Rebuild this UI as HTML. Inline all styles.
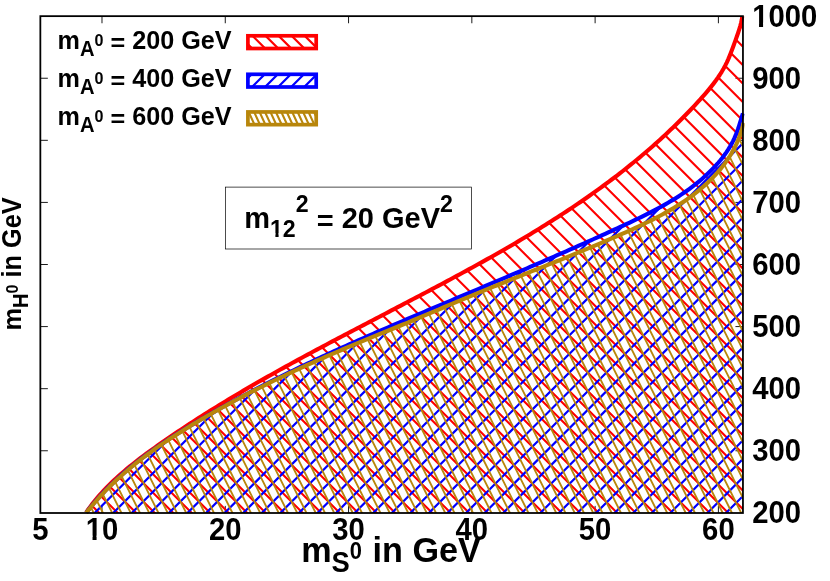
<!DOCTYPE html>
<html><head><meta charset="utf-8"><title>plot</title>
<style>html,body{margin:0;padding:0;background:#fff;}body{width:830px;height:581px;overflow:hidden;}svg{display:block;will-change:transform;}text{font-family:"Liberation Sans",sans-serif;font-weight:bold;fill:#000;}</style></head><body>
<svg width="830" height="581" viewBox="0 0 830 581">
<rect width="830" height="581" fill="#fff"/>
<defs>
<clipPath id="cr"><path d="M86.20,512.35 L88.23,509.45 L90.31,506.61 L92.44,503.81 L94.62,501.06 L96.85,498.35 L99.13,495.69 L101.46,493.07 L103.83,490.49 L106.24,487.95 L108.69,485.46 L111.18,482.99 L113.70,480.57 L116.26,478.18 L118.86,475.82 L121.48,473.49 L124.14,471.20 L126.82,468.93 L129.53,466.69 L132.27,464.48 L135.02,462.29 L137.80,460.12 L140.60,457.98 L143.42,455.86 L146.25,453.76 L149.09,451.67 L151.95,449.60 L154.82,447.55 L157.70,445.51 L160.58,443.48 L163.47,441.46 L166.37,439.46 L169.27,437.46 L172.18,435.48 L175.09,433.50 L178.01,431.54 L180.94,429.58 L183.87,427.64 L186.80,425.71 L189.74,423.78 L192.69,421.87 L195.64,419.96 L198.59,418.07 L201.55,416.18 L204.52,414.30 L207.49,412.43 L210.46,410.57 L213.44,408.72 L216.42,406.87 L219.41,405.04 L222.40,403.21 L225.39,401.39 L228.39,399.58 L231.40,397.77 L234.41,395.98 L237.42,394.18 L240.43,392.40 L243.45,390.62 L246.48,388.86 L249.51,387.09 L252.54,385.34 L255.57,383.58 L258.61,381.84 L261.65,380.10 L264.69,378.37 L267.74,376.64 L270.79,374.92 L273.85,373.21 L276.90,371.49 L279.96,369.79 L283.03,368.09 L286.09,366.39 L289.16,364.70 L292.23,363.01 L295.30,361.33 L298.38,359.65 L301.46,357.98 L304.54,356.31 L307.62,354.64 L310.71,352.98 L313.79,351.31 L316.88,349.66 L319.98,348.00 L323.07,346.35 L326.16,344.70 L329.26,343.06 L332.36,341.41 L335.46,339.77 L338.56,338.13 L341.67,336.50 L344.77,334.86 L347.88,333.23 L350.98,331.60 L354.09,329.97 L357.20,328.34 L360.31,326.71 L363.42,325.08 L366.54,323.45 L369.65,321.83 L372.76,320.20 L375.88,318.57 L378.99,316.95 L382.11,315.32 L385.23,313.70 L388.34,312.07 L391.46,310.44 L394.58,308.82 L397.70,307.19 L400.81,305.56 L403.93,303.93 L407.05,302.30 L410.17,300.67 L413.28,299.03 L416.40,297.39 L419.52,295.76 L422.63,294.12 L425.75,292.47 L428.86,290.83 L431.98,289.18 L435.09,287.53 L438.20,285.88 L441.31,284.22 L444.42,282.57 L447.53,280.90 L450.64,279.24 L453.74,277.57 L456.84,275.89 L459.94,274.22 L463.04,272.54 L466.14,270.85 L469.23,269.16 L472.32,267.46 L475.41,265.76 L478.49,264.06 L481.57,262.35 L484.65,260.63 L487.72,258.91 L490.79,257.19 L493.86,255.45 L496.92,253.72 L499.98,251.97 L503.03,250.22 L506.08,248.46 L509.13,246.70 L512.17,244.93 L515.21,243.15 L518.24,241.37 L521.26,239.57 L524.28,237.78 L527.30,235.97 L530.31,234.15 L533.31,232.33 L536.31,230.50 L539.30,228.66 L542.29,226.81 L545.27,224.96 L548.25,223.09 L551.21,221.22 L554.17,219.33 L557.13,217.44 L560.07,215.54 L563.01,213.63 L565.95,211.71 L568.87,209.78 L571.79,207.84 L574.70,205.89 L577.60,203.92 L580.49,201.95 L583.38,199.97 L586.26,197.97 L589.13,195.97 L591.99,193.95 L594.84,191.93 L597.68,189.89 L600.51,187.84 L603.34,185.77 L606.15,183.70 L608.96,181.61 L611.76,179.51 L614.54,177.40 L617.32,175.28 L620.09,173.14 L622.84,170.99 L625.59,168.82 L628.32,166.65 L631.05,164.46 L633.76,162.25 L636.47,160.03 L639.16,157.80 L641.84,155.55 L644.51,153.29 L647.17,151.02 L649.81,148.73 L652.45,146.42 L655.07,144.10 L657.68,141.77 L660.28,139.42 L662.87,137.05 L665.44,134.67 L668.00,132.28 L670.55,129.86 L673.08,127.43 L675.60,124.99 L678.11,122.53 L680.61,120.05 L683.09,117.55 L685.56,115.04 L688.01,112.51 L690.45,109.96 L692.88,107.40 L695.29,104.82 L697.69,102.22 L700.07,99.60 L702.44,96.96 L704.78,94.30 L707.09,91.62 L709.36,88.90 L711.58,86.15 L713.75,83.37 L715.86,80.55 L717.89,77.68 L719.85,74.76 L721.72,71.79 L723.49,68.77 L725.16,65.69 L726.72,62.55 L728.19,59.35 L729.56,56.11 L730.88,52.83 L732.13,49.53 L733.35,46.22 L734.55,42.90 L735.74,39.58 L736.92,36.27 L738.07,32.96 L739.15,29.64 L740.16,26.29 L741.05,22.91 L741.81,19.48 L742.40,16.00 L742.95,513.00 L86.20,513.00 Z"/></clipPath>
<clipPath id="cb"><path d="M86.20,512.85 L88.22,510.22 L90.28,507.63 L92.36,505.07 L94.48,502.54 L96.62,500.05 L98.80,497.58 L101.00,495.15 L103.23,492.74 L105.49,490.37 L107.78,488.03 L110.09,485.71 L112.43,483.43 L114.79,481.17 L117.17,478.93 L119.58,476.73 L122.02,474.55 L124.47,472.39 L126.95,470.26 L129.45,468.16 L131.97,466.08 L134.51,464.02 L137.06,461.98 L139.64,459.97 L142.24,457.97 L144.85,456.00 L147.48,454.05 L150.12,452.12 L152.78,450.21 L155.46,448.31 L158.15,446.44 L160.86,444.58 L163.57,442.74 L166.30,440.91 L169.05,439.10 L171.80,437.31 L174.57,435.53 L177.34,433.76 L180.12,432.01 L182.92,430.27 L185.72,428.54 L188.53,426.83 L191.34,425.13 L194.17,423.43 L197.00,421.75 L199.83,420.08 L202.67,418.42 L205.51,416.76 L208.36,415.12 L211.21,413.48 L214.07,411.85 L216.93,410.23 L219.79,408.62 L222.66,407.01 L225.53,405.42 L228.41,403.83 L231.29,402.25 L234.18,400.68 L237.06,399.12 L239.96,397.56 L242.85,396.01 L245.75,394.47 L248.66,392.94 L251.56,391.41 L254.47,389.89 L257.39,388.38 L260.31,386.87 L263.23,385.38 L266.15,383.88 L269.08,382.40 L272.01,380.92 L274.94,379.45 L277.88,377.98 L280.82,376.52 L283.76,375.07 L286.71,373.62 L289.66,372.18 L292.61,370.75 L295.57,369.32 L298.52,367.89 L301.48,366.47 L304.44,365.06 L307.41,363.65 L310.38,362.25 L313.35,360.85 L316.32,359.46 L319.29,358.07 L322.27,356.69 L325.25,355.31 L328.23,353.93 L331.21,352.56 L334.20,351.20 L337.19,349.84 L340.18,348.48 L343.17,347.13 L346.16,345.78 L349.15,344.43 L352.15,343.09 L355.15,341.76 L358.15,340.42 L361.15,339.09 L364.15,337.76 L367.16,336.44 L370.16,335.12 L373.17,333.80 L376.18,332.49 L379.19,331.18 L382.20,329.87 L385.21,328.56 L388.22,327.26 L391.24,325.95 L394.25,324.66 L397.27,323.36 L400.28,322.06 L403.30,320.77 L406.32,319.48 L409.34,318.19 L412.35,316.90 L415.37,315.62 L418.39,314.33 L421.42,313.05 L424.44,311.77 L427.46,310.49 L430.48,309.21 L433.50,307.93 L436.52,306.65 L439.55,305.37 L442.57,304.10 L445.59,302.82 L448.61,301.55 L451.63,300.27 L454.66,299.00 L457.68,297.72 L460.70,296.45 L463.72,295.18 L466.74,293.90 L469.76,292.63 L472.78,291.35 L475.80,290.08 L478.82,288.80 L481.84,287.52 L484.86,286.25 L487.87,284.97 L490.89,283.69 L493.91,282.41 L496.93,281.13 L499.94,279.85 L502.96,278.57 L505.98,277.29 L508.99,276.00 L512.01,274.72 L515.02,273.43 L518.04,272.14 L521.05,270.85 L524.06,269.56 L527.08,268.27 L530.09,266.98 L533.10,265.68 L536.11,264.38 L539.12,263.08 L542.14,261.78 L545.15,260.47 L548.16,259.17 L551.16,257.86 L554.17,256.55 L557.18,255.23 L560.19,253.92 L563.20,252.60 L566.20,251.28 L569.21,249.95 L572.22,248.62 L575.22,247.29 L578.23,245.96 L581.23,244.63 L584.24,243.29 L587.24,241.94 L590.24,240.60 L593.24,239.25 L596.25,237.90 L599.25,236.54 L602.25,235.18 L605.25,233.82 L608.25,232.45 L611.24,231.08 L614.24,229.71 L617.24,228.33 L620.24,226.95 L623.23,225.56 L626.23,224.17 L629.22,222.77 L632.21,221.36 L635.19,219.94 L638.16,218.51 L641.13,217.06 L644.09,215.60 L647.03,214.13 L649.97,212.64 L652.89,211.12 L655.80,209.59 L658.69,208.04 L661.57,206.46 L664.43,204.86 L667.27,203.23 L670.09,201.57 L672.89,199.88 L675.67,198.16 L678.42,196.41 L681.15,194.62 L683.86,192.80 L686.53,190.95 L689.18,189.05 L691.80,187.11 L694.39,185.14 L696.94,183.11 L699.47,181.05 L701.95,178.94 L704.41,176.78 L706.82,174.57 L709.20,172.31 L711.54,170.00 L713.83,167.64 L716.08,165.23 L718.27,162.76 L720.40,160.24 L722.46,157.66 L724.44,155.04 L726.34,152.35 L728.16,149.62 L729.88,146.83 L731.51,143.99 L733.02,141.09 L734.43,138.13 L735.72,135.13 L736.91,132.08 L738.02,128.99 L739.06,125.87 L740.05,122.74 L741.01,119.59 L741.95,116.44 L742.90,113.30 L742.95,513.00 L86.20,513.00 Z"/></clipPath>
<clipPath id="cg"><path d="M86.20,512.85 L88.24,510.27 L90.30,507.72 L92.39,505.20 L94.52,502.71 L96.67,500.24 L98.85,497.81 L101.05,495.41 L103.29,493.03 L105.54,490.68 L107.83,488.36 L110.14,486.06 L112.47,483.79 L114.83,481.55 L117.21,479.33 L119.61,477.14 L122.03,474.97 L124.48,472.82 L126.94,470.70 L129.43,468.60 L131.94,466.52 L134.46,464.46 L137.01,462.43 L139.57,460.41 L142.15,458.42 L144.75,456.45 L147.36,454.49 L149.99,452.56 L152.64,450.64 L155.29,448.75 L157.97,446.87 L160.66,445.01 L163.36,443.16 L166.07,441.33 L168.79,439.52 L171.53,437.72 L174.27,435.94 L177.03,434.17 L179.80,432.42 L182.57,430.68 L185.36,428.95 L188.15,427.24 L190.95,425.54 L193.75,423.85 L196.57,422.17 L199.38,420.50 L202.21,418.85 L205.04,417.20 L207.87,415.56 L210.71,413.94 L213.55,412.32 L216.40,410.71 L219.25,409.12 L222.11,407.53 L224.97,405.95 L227.83,404.38 L230.70,402.83 L233.58,401.28 L236.46,399.73 L239.34,398.20 L242.23,396.68 L245.12,395.17 L248.02,393.66 L250.92,392.16 L253.82,390.68 L256.73,389.20 L259.65,387.73 L262.56,386.26 L265.48,384.81 L268.41,383.36 L271.34,381.92 L274.27,380.49 L277.20,379.07 L280.14,377.65 L283.08,376.24 L286.03,374.84 L288.98,373.44 L291.93,372.06 L294.89,370.68 L297.85,369.30 L300.81,367.94 L303.78,366.58 L306.75,365.23 L309.72,363.88 L312.70,362.54 L315.68,361.21 L318.66,359.88 L321.64,358.56 L324.63,357.25 L327.62,355.94 L330.61,354.64 L333.60,353.34 L336.60,352.05 L339.60,350.77 L342.60,349.49 L345.60,348.22 L348.61,346.95 L351.62,345.69 L354.63,344.43 L357.64,343.17 L360.65,341.92 L363.67,340.67 L366.69,339.43 L369.70,338.18 L372.72,336.94 L375.74,335.70 L378.76,334.46 L381.78,333.22 L384.81,331.98 L387.83,330.74 L390.85,329.50 L393.88,328.26 L396.90,327.01 L399.92,325.77 L402.95,324.52 L405.97,323.27 L408.99,322.02 L412.02,320.77 L415.04,319.51 L418.06,318.24 L421.08,316.97 L424.10,315.70 L427.12,314.42 L430.14,313.14 L433.16,311.86 L436.17,310.58 L439.19,309.29 L442.21,308.01 L445.22,306.72 L448.24,305.44 L451.25,304.16 L454.27,302.88 L457.28,301.61 L460.30,300.34 L463.31,299.08 L466.33,297.82 L469.34,296.57 L472.36,295.32 L475.37,294.08 L478.39,292.84 L481.40,291.60 L484.42,290.37 L487.44,289.14 L490.45,287.92 L493.47,286.70 L496.48,285.48 L499.50,284.26 L502.51,283.05 L505.53,281.83 L508.55,280.62 L511.56,279.41 L514.58,278.20 L517.59,276.99 L520.61,275.79 L523.63,274.58 L526.64,273.37 L529.66,272.17 L532.68,270.96 L535.69,269.75 L538.71,268.54 L541.73,267.33 L544.75,266.12 L547.76,264.91 L550.78,263.70 L553.80,262.48 L556.82,261.26 L559.83,260.04 L562.85,258.82 L565.87,257.59 L568.89,256.36 L571.91,255.13 L574.93,253.89 L577.95,252.65 L580.96,251.40 L583.98,250.15 L587.00,248.89 L590.02,247.63 L593.04,246.37 L596.06,245.10 L599.08,243.82 L602.10,242.53 L605.12,241.25 L608.14,239.95 L611.17,238.65 L614.19,237.34 L617.21,236.02 L620.23,234.69 L623.25,233.36 L626.27,232.02 L629.29,230.66 L632.30,229.30 L635.31,227.92 L638.31,226.53 L641.30,225.12 L644.29,223.70 L647.26,222.25 L650.22,220.79 L653.17,219.30 L656.10,217.80 L659.01,216.27 L661.91,214.71 L664.79,213.13 L667.64,211.52 L670.48,209.89 L673.29,208.22 L676.08,206.52 L678.84,204.79 L681.57,203.02 L684.27,201.22 L686.95,199.38 L689.59,197.51 L692.20,195.59 L694.77,193.64 L697.31,191.64 L699.82,189.60 L702.28,187.52 L704.70,185.39 L707.08,183.21 L709.42,180.98 L711.72,178.71 L713.97,176.38 L716.17,174.01 L718.31,171.58 L720.40,169.11 L722.43,166.58 L724.39,164.01 L726.29,161.38 L728.12,158.71 L729.88,155.99 L731.56,153.21 L733.17,150.39 L734.69,147.52 L736.12,144.60 L737.47,141.63 L738.72,138.62 L739.88,135.55 L740.94,132.44 L741.90,129.27 L742.75,126.06 L743.50,122.80 L742.95,513.00 L86.20,513.00 Z"/></clipPath>
<clipPath id="box"><rect x="40.35" y="16.15" width="704.2" height="498.85"/></clipPath>
</defs>
<path d="M101.99,513.0V505.9M101.99,16.15V23.25 M225.27,513.0V505.9M225.27,16.15V23.25 M348.55,513.0V505.9M348.55,16.15V23.25 M471.84,513.0V505.9M471.84,16.15V23.25 M595.12,513.0V505.9M595.12,16.15V23.25 M718.40,513.0V505.9M718.40,16.15V23.25 M40.35,450.76H47.85M742.95,450.76H735.45 M40.35,388.68H47.85M742.95,388.68H735.45 M40.35,326.59H47.85M742.95,326.59H735.45 M40.35,264.50H47.85M742.95,264.50H735.45 M40.35,202.41H47.85M742.95,202.41H735.45 M40.35,140.32H47.85M742.95,140.32H735.45 M40.35,78.24H47.85M742.95,78.24H735.45" stroke="#000" stroke-width="0.9" fill="none"/>
<g clip-path="url(#cr)"><path d="M-495.05,11.15L11.80,518.00 M-476.55,11.15L30.30,518.00 M-458.05,11.15L48.80,518.00 M-439.55,11.15L67.30,518.00 M-421.05,11.15L85.80,518.00 M-402.55,11.15L104.30,518.00 M-384.05,11.15L122.80,518.00 M-365.55,11.15L141.30,518.00 M-347.05,11.15L159.80,518.00 M-328.55,11.15L178.30,518.00 M-310.05,11.15L196.80,518.00 M-291.55,11.15L215.30,518.00 M-273.05,11.15L233.80,518.00 M-254.55,11.15L252.30,518.00 M-236.05,11.15L270.80,518.00 M-217.55,11.15L289.30,518.00 M-199.05,11.15L307.80,518.00 M-180.55,11.15L326.30,518.00 M-162.05,11.15L344.80,518.00 M-143.55,11.15L363.30,518.00 M-125.05,11.15L381.80,518.00 M-106.55,11.15L400.30,518.00 M-88.05,11.15L418.80,518.00 M-69.55,11.15L437.30,518.00 M-51.05,11.15L455.80,518.00 M-32.55,11.15L474.30,518.00 M-14.05,11.15L492.80,518.00 M4.45,11.15L511.30,518.00 M22.95,11.15L529.80,518.00 M41.45,11.15L548.30,518.00 M59.95,11.15L566.80,518.00 M78.45,11.15L585.30,518.00 M96.95,11.15L603.80,518.00 M115.45,11.15L622.30,518.00 M133.95,11.15L640.80,518.00 M152.45,11.15L659.30,518.00 M170.95,11.15L677.80,518.00 M189.45,11.15L696.30,518.00 M207.95,11.15L714.80,518.00 M226.45,11.15L733.30,518.00 M244.95,11.15L751.80,518.00 M263.45,11.15L770.30,518.00 M281.95,11.15L788.80,518.00 M300.45,11.15L807.30,518.00 M318.95,11.15L825.80,518.00 M337.45,11.15L844.30,518.00 M355.95,11.15L862.80,518.00 M374.45,11.15L881.30,518.00 M392.95,11.15L899.80,518.00 M411.45,11.15L918.30,518.00 M429.95,11.15L936.80,518.00 M448.45,11.15L955.30,518.00 M466.95,11.15L973.80,518.00 M485.45,11.15L992.30,518.00 M503.95,11.15L1010.80,518.00 M522.45,11.15L1029.30,518.00 M540.95,11.15L1047.80,518.00 M559.45,11.15L1066.30,518.00 M577.95,11.15L1084.80,518.00 M596.45,11.15L1103.30,518.00 M614.95,11.15L1121.80,518.00 M633.45,11.15L1140.30,518.00 M651.95,11.15L1158.80,518.00 M670.45,11.15L1177.30,518.00 M688.95,11.15L1195.80,518.00 M707.45,11.15L1214.30,518.00 M725.95,11.15L1232.80,518.00 M744.45,11.15L1251.30,518.00 M762.95,11.15L1269.80,518.00" stroke="#ff0000" stroke-width="2.1" fill="none"/></g>
<path d="M86.20,512.35 L88.23,509.45 L90.31,506.61 L92.44,503.81 L94.62,501.06 L96.85,498.35 L99.13,495.69 L101.46,493.07 L103.83,490.49 L106.24,487.95 L108.69,485.46 L111.18,482.99 L113.70,480.57 L116.26,478.18 L118.86,475.82 L121.48,473.49 L124.14,471.20 L126.82,468.93 L129.53,466.69 L132.27,464.48 L135.02,462.29 L137.80,460.12 L140.60,457.98 L143.42,455.86 L146.25,453.76 L149.09,451.67 L151.95,449.60 L154.82,447.55 L157.70,445.51 L160.58,443.48 L163.47,441.46 L166.37,439.46 L169.27,437.46 L172.18,435.48 L175.09,433.50 L178.01,431.54 L180.94,429.58 L183.87,427.64 L186.80,425.71 L189.74,423.78 L192.69,421.87 L195.64,419.96 L198.59,418.07 L201.55,416.18 L204.52,414.30 L207.49,412.43 L210.46,410.57 L213.44,408.72 L216.42,406.87 L219.41,405.04 L222.40,403.21 L225.39,401.39 L228.39,399.58 L231.40,397.77 L234.41,395.98 L237.42,394.18 L240.43,392.40 L243.45,390.62 L246.48,388.86 L249.51,387.09 L252.54,385.34 L255.57,383.58 L258.61,381.84 L261.65,380.10 L264.69,378.37 L267.74,376.64 L270.79,374.92 L273.85,373.21 L276.90,371.49 L279.96,369.79 L283.03,368.09 L286.09,366.39 L289.16,364.70 L292.23,363.01 L295.30,361.33 L298.38,359.65 L301.46,357.98 L304.54,356.31 L307.62,354.64 L310.71,352.98 L313.79,351.31 L316.88,349.66 L319.98,348.00 L323.07,346.35 L326.16,344.70 L329.26,343.06 L332.36,341.41 L335.46,339.77 L338.56,338.13 L341.67,336.50 L344.77,334.86 L347.88,333.23 L350.98,331.60 L354.09,329.97 L357.20,328.34 L360.31,326.71 L363.42,325.08 L366.54,323.45 L369.65,321.83 L372.76,320.20 L375.88,318.57 L378.99,316.95 L382.11,315.32 L385.23,313.70 L388.34,312.07 L391.46,310.44 L394.58,308.82 L397.70,307.19 L400.81,305.56 L403.93,303.93 L407.05,302.30 L410.17,300.67 L413.28,299.03 L416.40,297.39 L419.52,295.76 L422.63,294.12 L425.75,292.47 L428.86,290.83 L431.98,289.18 L435.09,287.53 L438.20,285.88 L441.31,284.22 L444.42,282.57 L447.53,280.90 L450.64,279.24 L453.74,277.57 L456.84,275.89 L459.94,274.22 L463.04,272.54 L466.14,270.85 L469.23,269.16 L472.32,267.46 L475.41,265.76 L478.49,264.06 L481.57,262.35 L484.65,260.63 L487.72,258.91 L490.79,257.19 L493.86,255.45 L496.92,253.72 L499.98,251.97 L503.03,250.22 L506.08,248.46 L509.13,246.70 L512.17,244.93 L515.21,243.15 L518.24,241.37 L521.26,239.57 L524.28,237.78 L527.30,235.97 L530.31,234.15 L533.31,232.33 L536.31,230.50 L539.30,228.66 L542.29,226.81 L545.27,224.96 L548.25,223.09 L551.21,221.22 L554.17,219.33 L557.13,217.44 L560.07,215.54 L563.01,213.63 L565.95,211.71 L568.87,209.78 L571.79,207.84 L574.70,205.89 L577.60,203.92 L580.49,201.95 L583.38,199.97 L586.26,197.97 L589.13,195.97 L591.99,193.95 L594.84,191.93 L597.68,189.89 L600.51,187.84 L603.34,185.77 L606.15,183.70 L608.96,181.61 L611.76,179.51 L614.54,177.40 L617.32,175.28 L620.09,173.14 L622.84,170.99 L625.59,168.82 L628.32,166.65 L631.05,164.46 L633.76,162.25 L636.47,160.03 L639.16,157.80 L641.84,155.55 L644.51,153.29 L647.17,151.02 L649.81,148.73 L652.45,146.42 L655.07,144.10 L657.68,141.77 L660.28,139.42 L662.87,137.05 L665.44,134.67 L668.00,132.28 L670.55,129.86 L673.08,127.43 L675.60,124.99 L678.11,122.53 L680.61,120.05 L683.09,117.55 L685.56,115.04 L688.01,112.51 L690.45,109.96 L692.88,107.40 L695.29,104.82 L697.69,102.22 L700.07,99.60 L702.44,96.96 L704.78,94.30 L707.09,91.62 L709.36,88.90 L711.58,86.15 L713.75,83.37 L715.86,80.55 L717.89,77.68 L719.85,74.76 L721.72,71.79 L723.49,68.77 L725.16,65.69 L726.72,62.55 L728.19,59.35 L729.56,56.11 L730.88,52.83 L732.13,49.53 L733.35,46.22 L734.55,42.90 L735.74,39.58 L736.92,36.27 L738.07,32.96 L739.15,29.64 L740.16,26.29 L741.05,22.91 L741.81,19.48 L742.40,16.00" stroke="#ff0000" stroke-width="4.1" fill="none" stroke-linejoin="round" clip-path="url(#box)"/>
<g clip-path="url(#cb)"><path d="M20.79,11.15L-486.06,518.00 M39.36,11.15L-467.49,518.00 M57.93,11.15L-448.92,518.00 M76.50,11.15L-430.35,518.00 M95.07,11.15L-411.78,518.00 M113.64,11.15L-393.21,518.00 M132.21,11.15L-374.64,518.00 M150.78,11.15L-356.07,518.00 M169.35,11.15L-337.50,518.00 M187.92,11.15L-318.93,518.00 M206.49,11.15L-300.36,518.00 M225.06,11.15L-281.79,518.00 M243.63,11.15L-263.22,518.00 M262.20,11.15L-244.65,518.00 M280.77,11.15L-226.08,518.00 M299.34,11.15L-207.51,518.00 M317.91,11.15L-188.94,518.00 M336.48,11.15L-170.37,518.00 M355.05,11.15L-151.80,518.00 M373.62,11.15L-133.23,518.00 M392.19,11.15L-114.66,518.00 M410.76,11.15L-96.09,518.00 M429.33,11.15L-77.52,518.00 M447.90,11.15L-58.95,518.00 M466.47,11.15L-40.38,518.00 M485.04,11.15L-21.81,518.00 M503.61,11.15L-3.24,518.00 M522.18,11.15L15.33,518.00 M540.75,11.15L33.90,518.00 M559.32,11.15L52.47,518.00 M577.89,11.15L71.04,518.00 M596.46,11.15L89.61,518.00 M615.03,11.15L108.18,518.00 M633.60,11.15L126.75,518.00 M652.17,11.15L145.32,518.00 M670.74,11.15L163.89,518.00 M689.31,11.15L182.46,518.00 M707.88,11.15L201.03,518.00 M726.45,11.15L219.60,518.00 M745.02,11.15L238.17,518.00 M763.59,11.15L256.74,518.00 M782.16,11.15L275.31,518.00 M800.73,11.15L293.88,518.00 M819.30,11.15L312.45,518.00 M837.87,11.15L331.02,518.00 M856.44,11.15L349.59,518.00 M875.01,11.15L368.16,518.00 M893.58,11.15L386.73,518.00 M912.15,11.15L405.30,518.00 M930.72,11.15L423.87,518.00 M949.29,11.15L442.44,518.00 M967.86,11.15L461.01,518.00 M986.43,11.15L479.58,518.00 M1005.00,11.15L498.15,518.00 M1023.57,11.15L516.72,518.00 M1042.14,11.15L535.29,518.00 M1060.71,11.15L553.86,518.00 M1079.28,11.15L572.43,518.00 M1097.85,11.15L591.00,518.00 M1116.42,11.15L609.57,518.00 M1134.99,11.15L628.14,518.00 M1153.56,11.15L646.71,518.00 M1172.13,11.15L665.28,518.00 M1190.70,11.15L683.85,518.00 M1209.27,11.15L702.42,518.00 M1227.84,11.15L720.99,518.00 M1246.41,11.15L739.56,518.00 M1264.98,11.15L758.13,518.00 M1283.55,11.15L776.70,518.00" stroke="#0000ff" stroke-width="2.2" fill="none"/></g>
<path d="M86.20,512.85 L88.22,510.22 L90.28,507.63 L92.36,505.07 L94.48,502.54 L96.62,500.05 L98.80,497.58 L101.00,495.15 L103.23,492.74 L105.49,490.37 L107.78,488.03 L110.09,485.71 L112.43,483.43 L114.79,481.17 L117.17,478.93 L119.58,476.73 L122.02,474.55 L124.47,472.39 L126.95,470.26 L129.45,468.16 L131.97,466.08 L134.51,464.02 L137.06,461.98 L139.64,459.97 L142.24,457.97 L144.85,456.00 L147.48,454.05 L150.12,452.12 L152.78,450.21 L155.46,448.31 L158.15,446.44 L160.86,444.58 L163.57,442.74 L166.30,440.91 L169.05,439.10 L171.80,437.31 L174.57,435.53 L177.34,433.76 L180.12,432.01 L182.92,430.27 L185.72,428.54 L188.53,426.83 L191.34,425.13 L194.17,423.43 L197.00,421.75 L199.83,420.08 L202.67,418.42 L205.51,416.76 L208.36,415.12 L211.21,413.48 L214.07,411.85 L216.93,410.23 L219.79,408.62 L222.66,407.01 L225.53,405.42 L228.41,403.83 L231.29,402.25 L234.18,400.68 L237.06,399.12 L239.96,397.56 L242.85,396.01 L245.75,394.47 L248.66,392.94 L251.56,391.41 L254.47,389.89 L257.39,388.38 L260.31,386.87 L263.23,385.38 L266.15,383.88 L269.08,382.40 L272.01,380.92 L274.94,379.45 L277.88,377.98 L280.82,376.52 L283.76,375.07 L286.71,373.62 L289.66,372.18 L292.61,370.75 L295.57,369.32 L298.52,367.89 L301.48,366.47 L304.44,365.06 L307.41,363.65 L310.38,362.25 L313.35,360.85 L316.32,359.46 L319.29,358.07 L322.27,356.69 L325.25,355.31 L328.23,353.93 L331.21,352.56 L334.20,351.20 L337.19,349.84 L340.18,348.48 L343.17,347.13 L346.16,345.78 L349.15,344.43 L352.15,343.09 L355.15,341.76 L358.15,340.42 L361.15,339.09 L364.15,337.76 L367.16,336.44 L370.16,335.12 L373.17,333.80 L376.18,332.49 L379.19,331.18 L382.20,329.87 L385.21,328.56 L388.22,327.26 L391.24,325.95 L394.25,324.66 L397.27,323.36 L400.28,322.06 L403.30,320.77 L406.32,319.48 L409.34,318.19 L412.35,316.90 L415.37,315.62 L418.39,314.33 L421.42,313.05 L424.44,311.77 L427.46,310.49 L430.48,309.21 L433.50,307.93 L436.52,306.65 L439.55,305.37 L442.57,304.10 L445.59,302.82 L448.61,301.55 L451.63,300.27 L454.66,299.00 L457.68,297.72 L460.70,296.45 L463.72,295.18 L466.74,293.90 L469.76,292.63 L472.78,291.35 L475.80,290.08 L478.82,288.80 L481.84,287.52 L484.86,286.25 L487.87,284.97 L490.89,283.69 L493.91,282.41 L496.93,281.13 L499.94,279.85 L502.96,278.57 L505.98,277.29 L508.99,276.00 L512.01,274.72 L515.02,273.43 L518.04,272.14 L521.05,270.85 L524.06,269.56 L527.08,268.27 L530.09,266.98 L533.10,265.68 L536.11,264.38 L539.12,263.08 L542.14,261.78 L545.15,260.47 L548.16,259.17 L551.16,257.86 L554.17,256.55 L557.18,255.23 L560.19,253.92 L563.20,252.60 L566.20,251.28 L569.21,249.95 L572.22,248.62 L575.22,247.29 L578.23,245.96 L581.23,244.63 L584.24,243.29 L587.24,241.94 L590.24,240.60 L593.24,239.25 L596.25,237.90 L599.25,236.54 L602.25,235.18 L605.25,233.82 L608.25,232.45 L611.24,231.08 L614.24,229.71 L617.24,228.33 L620.24,226.95 L623.23,225.56 L626.23,224.17 L629.22,222.77 L632.21,221.36 L635.19,219.94 L638.16,218.51 L641.13,217.06 L644.09,215.60 L647.03,214.13 L649.97,212.64 L652.89,211.12 L655.80,209.59 L658.69,208.04 L661.57,206.46 L664.43,204.86 L667.27,203.23 L670.09,201.57 L672.89,199.88 L675.67,198.16 L678.42,196.41 L681.15,194.62 L683.86,192.80 L686.53,190.95 L689.18,189.05 L691.80,187.11 L694.39,185.14 L696.94,183.11 L699.47,181.05 L701.95,178.94 L704.41,176.78 L706.82,174.57 L709.20,172.31 L711.54,170.00 L713.83,167.64 L716.08,165.23 L718.27,162.76 L720.40,160.24 L722.46,157.66 L724.44,155.04 L726.34,152.35 L728.16,149.62 L729.88,146.83 L731.51,143.99 L733.02,141.09 L734.43,138.13 L735.72,135.13 L736.91,132.08 L738.02,128.99 L739.06,125.87 L740.05,122.74 L741.01,119.59 L741.95,116.44 L742.90,113.30" stroke="#0000ff" stroke-width="4.1" fill="none" stroke-linejoin="round" clip-path="url(#box)"/>
<g clip-path="url(#cg)"><path d="M-231.18,11.15L22.25,518.00 M-221.93,11.15L31.50,518.00 M-212.68,11.15L40.75,518.00 M-203.43,11.15L50.00,518.00 M-194.18,11.15L59.25,518.00 M-184.93,11.15L68.50,518.00 M-175.68,11.15L77.75,518.00 M-166.43,11.15L87.00,518.00 M-157.18,11.15L96.25,518.00 M-147.93,11.15L105.50,518.00 M-138.68,11.15L114.75,518.00 M-129.43,11.15L124.00,518.00 M-120.17,11.15L133.25,518.00 M-110.92,11.15L142.50,518.00 M-101.67,11.15L151.75,518.00 M-92.42,11.15L161.00,518.00 M-83.17,11.15L170.25,518.00 M-73.92,11.15L179.50,518.00 M-64.67,11.15L188.75,518.00 M-55.42,11.15L198.00,518.00 M-46.17,11.15L207.25,518.00 M-36.92,11.15L216.50,518.00 M-27.68,11.15L225.75,518.00 M-18.43,11.15L235.00,518.00 M-9.18,11.15L244.25,518.00 M0.07,11.15L253.50,518.00 M9.32,11.15L262.75,518.00 M18.57,11.15L272.00,518.00 M27.82,11.15L281.25,518.00 M37.08,11.15L290.50,518.00 M46.33,11.15L299.75,518.00 M55.58,11.15L309.00,518.00 M64.83,11.15L318.25,518.00 M74.08,11.15L327.50,518.00 M83.33,11.15L336.75,518.00 M92.58,11.15L346.00,518.00 M101.83,11.15L355.25,518.00 M111.08,11.15L364.50,518.00 M120.33,11.15L373.75,518.00 M129.57,11.15L383.00,518.00 M138.82,11.15L392.25,518.00 M148.07,11.15L401.50,518.00 M157.32,11.15L410.75,518.00 M166.57,11.15L420.00,518.00 M175.82,11.15L429.25,518.00 M185.07,11.15L438.50,518.00 M194.32,11.15L447.75,518.00 M203.57,11.15L457.00,518.00 M212.82,11.15L466.25,518.00 M222.07,11.15L475.50,518.00 M231.32,11.15L484.75,518.00 M240.57,11.15L494.00,518.00 M249.82,11.15L503.25,518.00 M259.07,11.15L512.50,518.00 M268.32,11.15L521.75,518.00 M277.57,11.15L531.00,518.00 M286.82,11.15L540.25,518.00 M296.07,11.15L549.50,518.00 M305.32,11.15L558.75,518.00 M314.57,11.15L568.00,518.00 M323.82,11.15L577.25,518.00 M333.07,11.15L586.50,518.00 M342.32,11.15L595.75,518.00 M351.57,11.15L605.00,518.00 M360.82,11.15L614.25,518.00 M370.07,11.15L623.50,518.00 M379.32,11.15L632.75,518.00 M388.57,11.15L642.00,518.00 M397.82,11.15L651.25,518.00 M407.07,11.15L660.50,518.00 M416.32,11.15L669.75,518.00 M425.57,11.15L679.00,518.00 M434.82,11.15L688.25,518.00 M444.07,11.15L697.50,518.00 M453.32,11.15L706.75,518.00 M462.57,11.15L716.00,518.00 M471.82,11.15L725.25,518.00 M481.07,11.15L734.50,518.00 M490.32,11.15L743.75,518.00 M499.57,11.15L753.00,518.00 M508.82,11.15L762.25,518.00 M518.08,11.15L771.50,518.00 M527.33,11.15L780.75,518.00 M536.58,11.15L790.00,518.00 M545.83,11.15L799.25,518.00 M555.08,11.15L808.50,518.00 M564.33,11.15L817.75,518.00 M573.58,11.15L827.00,518.00 M582.83,11.15L836.25,518.00 M592.08,11.15L845.50,518.00 M601.33,11.15L854.75,518.00 M610.58,11.15L864.00,518.00 M619.83,11.15L873.25,518.00 M629.08,11.15L882.50,518.00 M638.33,11.15L891.75,518.00 M647.58,11.15L901.00,518.00 M656.83,11.15L910.25,518.00 M666.08,11.15L919.50,518.00 M675.33,11.15L928.75,518.00 M684.58,11.15L938.00,518.00 M693.83,11.15L947.25,518.00 M703.08,11.15L956.50,518.00 M712.33,11.15L965.75,518.00 M721.58,11.15L975.00,518.00 M730.83,11.15L984.25,518.00 M740.08,11.15L993.50,518.00 M749.33,11.15L1002.75,518.00 M758.58,11.15L1012.00,518.00" stroke="#b8860b" stroke-width="1.85" fill="none"/></g>
<path d="M86.20,512.85 L88.24,510.27 L90.30,507.72 L92.39,505.20 L94.52,502.71 L96.67,500.24 L98.85,497.81 L101.05,495.41 L103.29,493.03 L105.54,490.68 L107.83,488.36 L110.14,486.06 L112.47,483.79 L114.83,481.55 L117.21,479.33 L119.61,477.14 L122.03,474.97 L124.48,472.82 L126.94,470.70 L129.43,468.60 L131.94,466.52 L134.46,464.46 L137.01,462.43 L139.57,460.41 L142.15,458.42 L144.75,456.45 L147.36,454.49 L149.99,452.56 L152.64,450.64 L155.29,448.75 L157.97,446.87 L160.66,445.01 L163.36,443.16 L166.07,441.33 L168.79,439.52 L171.53,437.72 L174.27,435.94 L177.03,434.17 L179.80,432.42 L182.57,430.68 L185.36,428.95 L188.15,427.24 L190.95,425.54 L193.75,423.85 L196.57,422.17 L199.38,420.50 L202.21,418.85 L205.04,417.20 L207.87,415.56 L210.71,413.94 L213.55,412.32 L216.40,410.71 L219.25,409.12 L222.11,407.53 L224.97,405.95 L227.83,404.38 L230.70,402.83 L233.58,401.28 L236.46,399.73 L239.34,398.20 L242.23,396.68 L245.12,395.17 L248.02,393.66 L250.92,392.16 L253.82,390.68 L256.73,389.20 L259.65,387.73 L262.56,386.26 L265.48,384.81 L268.41,383.36 L271.34,381.92 L274.27,380.49 L277.20,379.07 L280.14,377.65 L283.08,376.24 L286.03,374.84 L288.98,373.44 L291.93,372.06 L294.89,370.68 L297.85,369.30 L300.81,367.94 L303.78,366.58 L306.75,365.23 L309.72,363.88 L312.70,362.54 L315.68,361.21 L318.66,359.88 L321.64,358.56 L324.63,357.25 L327.62,355.94 L330.61,354.64 L333.60,353.34 L336.60,352.05 L339.60,350.77 L342.60,349.49 L345.60,348.22 L348.61,346.95 L351.62,345.69 L354.63,344.43 L357.64,343.17 L360.65,341.92 L363.67,340.67 L366.69,339.43 L369.70,338.18 L372.72,336.94 L375.74,335.70 L378.76,334.46 L381.78,333.22 L384.81,331.98 L387.83,330.74 L390.85,329.50 L393.88,328.26 L396.90,327.01 L399.92,325.77 L402.95,324.52 L405.97,323.27 L408.99,322.02 L412.02,320.77 L415.04,319.51 L418.06,318.24 L421.08,316.97 L424.10,315.70 L427.12,314.42 L430.14,313.14 L433.16,311.86 L436.17,310.58 L439.19,309.29 L442.21,308.01 L445.22,306.72 L448.24,305.44 L451.25,304.16 L454.27,302.88 L457.28,301.61 L460.30,300.34 L463.31,299.08 L466.33,297.82 L469.34,296.57 L472.36,295.32 L475.37,294.08 L478.39,292.84 L481.40,291.60 L484.42,290.37 L487.44,289.14 L490.45,287.92 L493.47,286.70 L496.48,285.48 L499.50,284.26 L502.51,283.05 L505.53,281.83 L508.55,280.62 L511.56,279.41 L514.58,278.20 L517.59,276.99 L520.61,275.79 L523.63,274.58 L526.64,273.37 L529.66,272.17 L532.68,270.96 L535.69,269.75 L538.71,268.54 L541.73,267.33 L544.75,266.12 L547.76,264.91 L550.78,263.70 L553.80,262.48 L556.82,261.26 L559.83,260.04 L562.85,258.82 L565.87,257.59 L568.89,256.36 L571.91,255.13 L574.93,253.89 L577.95,252.65 L580.96,251.40 L583.98,250.15 L587.00,248.89 L590.02,247.63 L593.04,246.37 L596.06,245.10 L599.08,243.82 L602.10,242.53 L605.12,241.25 L608.14,239.95 L611.17,238.65 L614.19,237.34 L617.21,236.02 L620.23,234.69 L623.25,233.36 L626.27,232.02 L629.29,230.66 L632.30,229.30 L635.31,227.92 L638.31,226.53 L641.30,225.12 L644.29,223.70 L647.26,222.25 L650.22,220.79 L653.17,219.30 L656.10,217.80 L659.01,216.27 L661.91,214.71 L664.79,213.13 L667.64,211.52 L670.48,209.89 L673.29,208.22 L676.08,206.52 L678.84,204.79 L681.57,203.02 L684.27,201.22 L686.95,199.38 L689.59,197.51 L692.20,195.59 L694.77,193.64 L697.31,191.64 L699.82,189.60 L702.28,187.52 L704.70,185.39 L707.08,183.21 L709.42,180.98 L711.72,178.71 L713.97,176.38 L716.17,174.01 L718.31,171.58 L720.40,169.11 L722.43,166.58 L724.39,164.01 L726.29,161.38 L728.12,158.71 L729.88,155.99 L731.56,153.21 L733.17,150.39 L734.69,147.52 L736.12,144.60 L737.47,141.63 L738.72,138.62 L739.88,135.55 L740.94,132.44 L741.90,129.27 L742.75,126.06 L743.50,122.80" stroke="#b8860b" stroke-width="4.1" fill="none" stroke-linejoin="round" clip-path="url(#box)"/>
<rect x="40.35" y="16.15" width="702.6" height="496.85" fill="none" stroke="#000" stroke-width="1.78"/>
<text transform="matrix(1 0 0 1.055 40.35 539.70)" font-size="29.30" text-anchor="middle" xml:space="preserve">5</text>
<text transform="matrix(1 0 0 1.055 101.99 539.70)" font-size="29.30" text-anchor="middle" xml:space="preserve">10</text><rect x="86.58" y="535.65" width="5.95" height="4.95" fill="#fff"/><rect x="96.57" y="535.65" width="5.27" height="4.95" fill="#fff"/>
<text transform="matrix(1 0 0 1.055 225.27 539.70)" font-size="29.30" text-anchor="middle" xml:space="preserve">20</text>
<text transform="matrix(1 0 0 1.055 348.55 539.70)" font-size="29.30" text-anchor="middle" xml:space="preserve">30</text>
<text transform="matrix(1 0 0 1.055 471.84 539.70)" font-size="29.30" text-anchor="middle" xml:space="preserve">40</text>
<text transform="matrix(1 0 0 1.055 595.12 539.70)" font-size="29.30" text-anchor="middle" xml:space="preserve">50</text>
<text transform="matrix(1 0 0 1.055 718.40 539.70)" font-size="29.30" text-anchor="middle" xml:space="preserve">60</text>
<text transform="matrix(1 0 0 1.055 752.20 523.45)" font-size="29.30" xml:space="preserve">200</text>
<text transform="matrix(1 0 0 1.055 752.20 461.36)" font-size="29.30" xml:space="preserve">300</text>
<text transform="matrix(1 0 0 1.055 752.20 399.28)" font-size="29.30" xml:space="preserve">400</text>
<text transform="matrix(1 0 0 1.055 752.20 337.19)" font-size="29.30" xml:space="preserve">500</text>
<text transform="matrix(1 0 0 1.055 752.20 275.10)" font-size="29.30" xml:space="preserve">600</text>
<text transform="matrix(1 0 0 1.055 752.20 213.01)" font-size="29.30" xml:space="preserve">700</text>
<text transform="matrix(1 0 0 1.055 752.20 150.92)" font-size="29.30" xml:space="preserve">800</text>
<text transform="matrix(1 0 0 1.055 752.20 88.84)" font-size="29.30" xml:space="preserve">900</text>
<text transform="matrix(1 0 0 1.055 752.20 26.75)" font-size="29.30" xml:space="preserve">1000</text><rect x="753.08" y="22.70" width="5.95" height="4.95" fill="#fff"/><rect x="763.07" y="22.70" width="5.27" height="4.95" fill="#fff"/>
<text transform="matrix(1 0 0 1.0 57.50 48.50)" font-size="25.20" xml:space="preserve">m</text><text transform="matrix(1 0 0 1.055 79.90 56.06)" font-size="20.16" xml:space="preserve">A</text><text transform="matrix(1 0 0 1.055 94.46 45.98)" font-size="16.13" xml:space="preserve">0</text><text transform="matrix(1 0 0 0.96 110.43 50.57)" font-size="25.20" xml:space="preserve">=</text><text transform="matrix(1 0 0 1.045 125.15 48.50)" font-size="25.20" xml:space="preserve"> 200 GeV</text>
<text transform="matrix(1 0 0 1.0 57.50 86.50)" font-size="25.20" xml:space="preserve">m</text><text transform="matrix(1 0 0 1.055 79.90 94.06)" font-size="20.16" xml:space="preserve">A</text><text transform="matrix(1 0 0 1.055 94.46 83.98)" font-size="16.13" xml:space="preserve">0</text><text transform="matrix(1 0 0 0.96 110.43 88.57)" font-size="25.20" xml:space="preserve">=</text><text transform="matrix(1 0 0 1.045 125.15 86.50)" font-size="25.20" xml:space="preserve"> 400 GeV</text>
<text transform="matrix(1 0 0 1.0 57.50 124.50)" font-size="25.20" xml:space="preserve">m</text><text transform="matrix(1 0 0 1.055 79.90 132.06)" font-size="20.16" xml:space="preserve">A</text><text transform="matrix(1 0 0 1.055 94.46 121.98)" font-size="16.13" xml:space="preserve">0</text><text transform="matrix(1 0 0 0.96 110.43 126.57)" font-size="25.20" xml:space="preserve">=</text><text transform="matrix(1 0 0 1.045 125.15 124.50)" font-size="25.20" xml:space="preserve"> 600 GeV</text>
<clipPath id="lb0"><rect x="247.9" y="35.8" width="68.29999999999998" height="12.7"/></clipPath><g clip-path="url(#lb0)"><path d="M211.35,33.80L228.05,50.50 M224.40,33.80L241.10,50.50 M237.45,33.80L254.15,50.50 M250.50,33.80L267.20,50.50 M263.55,33.80L280.25,50.50 M276.60,33.80L293.30,50.50 M289.65,33.80L306.35,50.50 M302.70,33.80L319.40,50.50 M315.75,33.80L332.45,50.50 M328.80,33.80L345.50,50.50 M341.85,33.80L358.55,50.50" stroke="#ff0000" stroke-width="2.2" fill="none"/></g><rect x="247.9" y="35.8" width="68.29999999999998" height="12.7" fill="none" stroke="#ff0000" stroke-width="3.7"/><clipPath id="lb1"><rect x="247.9" y="74.30000000000001" width="68.29999999999998" height="12.7"/></clipPath><g clip-path="url(#lb1)"><path d="M227.55,72.30L210.85,89.00 M240.60,72.30L223.90,89.00 M253.65,72.30L236.95,89.00 M266.70,72.30L250.00,89.00 M279.75,72.30L263.05,89.00 M292.80,72.30L276.10,89.00 M305.85,72.30L289.15,89.00 M318.90,72.30L302.20,89.00 M331.95,72.30L315.25,89.00 M345.00,72.30L328.30,89.00 M358.05,72.30L341.35,89.00" stroke="#0000ff" stroke-width="2.2" fill="none"/></g><rect x="247.9" y="74.30000000000001" width="68.29999999999998" height="12.7" fill="none" stroke="#0000ff" stroke-width="3.7"/><clipPath id="lb2"><rect x="247.9" y="111.95" width="68.29999999999998" height="12.7"/></clipPath><g clip-path="url(#lb2)"><path d="M225.97,109.95L233.67,126.65 M231.41,109.95L239.11,126.65 M236.85,109.95L244.55,126.65 M242.29,109.95L249.99,126.65 M247.73,109.95L255.43,126.65 M253.17,109.95L260.87,126.65 M258.61,109.95L266.31,126.65 M264.05,109.95L271.75,126.65 M269.49,109.95L277.19,126.65 M274.93,109.95L282.63,126.65 M280.37,109.95L288.07,126.65 M285.81,109.95L293.51,126.65 M291.25,109.95L298.95,126.65 M296.69,109.95L304.39,126.65 M302.13,109.95L309.83,126.65 M307.57,109.95L315.27,126.65 M313.01,109.95L320.71,126.65 M318.45,109.95L326.15,126.65 M323.89,109.95L331.59,126.65 M329.33,109.95L337.03,126.65" stroke="#b8860b" stroke-width="2.1" fill="none"/></g><rect x="247.9" y="111.95" width="68.29999999999998" height="12.7" fill="none" stroke="#b8860b" stroke-width="3.7"/>
<rect x="225.5" y="187.1" width="246.1" height="61.9" fill="#fff" stroke="#000" stroke-width="0.7"/>
<text transform="matrix(1 0 0 1.0 244.20 227.90)" font-size="29.00" xml:space="preserve">m</text><text transform="matrix(1 0 0 1.055 269.98 236.60)" font-size="23.20" xml:space="preserve">12</text><rect x="270.68" y="233.20" width="4.71" height="4.30" fill="#fff"/><rect x="278.59" y="233.20" width="4.18" height="4.30" fill="#fff"/><text transform="matrix(1 0 0 1.055 295.78 212.24)" font-size="23.20" xml:space="preserve">2</text><text transform="matrix(1 0 0 0.96 316.74 230.28)" font-size="29.00" xml:space="preserve">=</text><text transform="matrix(1 0 0 1.045 333.68 227.90)" font-size="29.00" xml:space="preserve"> 20 GeV</text><text transform="matrix(1 0 0 1.055 440.08 212.24)" font-size="23.20" xml:space="preserve">2</text>
<text transform="matrix(1 0 0 1.0 301.20 561.50)" font-size="34.20" xml:space="preserve">m</text><text transform="matrix(1 0 0 1.055 331.60 572.44)" font-size="27.36" xml:space="preserve">S</text><text transform="matrix(1 0 0 1.055 349.85 558.76)" font-size="21.89" xml:space="preserve">0</text><text transform="matrix(1 0 0 1.045 363.02 561.50)" font-size="34.20" xml:space="preserve"> in GeV</text>
<g transform="translate(20.9,330.6) rotate(-90)"><text transform="matrix(1 0 0 1.0 0.00 0.00)" font-size="25.30" xml:space="preserve">m</text><text transform="matrix(1 0 0 1.055 22.49 7.59)" font-size="20.24" xml:space="preserve">H</text><text transform="matrix(1 0 0 1.055 37.10 -2.53)" font-size="16.19" xml:space="preserve">0</text><text transform="matrix(1 0 0 1.075 46.11 0.00)" font-size="25.30" xml:space="preserve"> in GeV</text></g>
</svg></body></html>
